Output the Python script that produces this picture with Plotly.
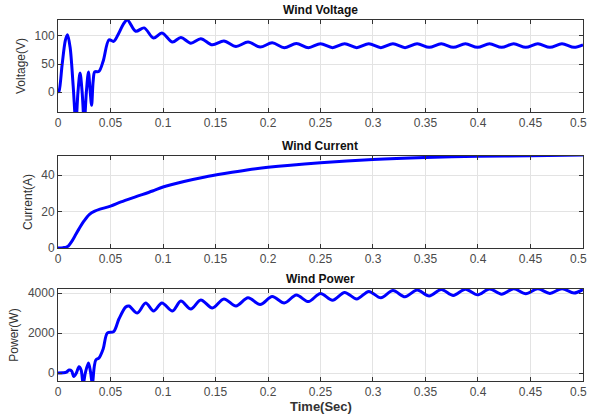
import plotly.graph_objects as go

# ---------------- data ----------------
volt_t = [0, 0.001, 0.004, 0.007, 0.009, 0.0115, 0.0145, 0.017, 0.019, 0.021, 0.023, 0.025, 0.027,
          0.029, 0.0305, 0.032, 0.0335, 0.035, 0.039, 0.043, 0.0486, 0.053, 0.058, 0.062, 0.066,
          0.074, 0.082, 0.091, 0.099, 0.109, 0.117, 0.1265, 0.136, 0.147, 0.158, 0.1695, 0.181,
          0.1925, 0.204, 0.2155, 0.227, 0.2385, 0.25, 0.2615, 0.273, 0.2845, 0.296, 0.3075, 0.319,
          0.3305, 0.342, 0.3535, 0.365, 0.3765, 0.388, 0.3995, 0.411, 0.4225, 0.434, 0.4455, 0.457,
          0.4685, 0.48, 0.4915, 0.5]
volt_v = [0, 2, 50, 92, 102, 80, 10, -55, 0, 34, 0, -55, 0,
          36, 5, -23, 20, 36, 37, 55, 93, 90, 105, 120, 128,
          108, 114, 96, 105, 89, 97, 87, 95, 84, 91, 81, 89,
          80, 87.5, 79, 86.5, 79, 86, 79, 86, 79, 86, 79, 86,
          79, 86, 79.5, 86, 79.5, 86, 79.5, 86, 79.5, 86, 79.5, 86,
          79.5, 86, 79.5, 84]

curr_t = [0, 0.005, 0.008, 0.01, 0.013, 0.016, 0.02, 0.025, 0.03, 0.035, 0.04, 0.05, 0.06, 0.075,
          0.09, 0.1, 0.12, 0.14, 0.16, 0.18, 0.2, 0.25, 0.3, 0.35, 0.4, 0.45, 0.5]
curr_i = [0, 0.2, 0.5, 1.2, 3.5, 6.5, 10.5, 15, 18.5, 20.2, 21.3, 23, 25.3, 28.3,
          31.3, 33.5, 36.5, 39, 41, 42.8, 44.3, 46.8, 48.6, 49.7, 50.3, 50.7, 51]

pow_t = [0, 0.005, 0.008, 0.0105, 0.013, 0.015, 0.0175, 0.02, 0.022, 0.024, 0.026, 0.029, 0.031,
         0.0327, 0.0345, 0.036, 0.039, 0.043, 0.047, 0.053, 0.058, 0.0645, 0.0676, 0.0755, 0.0835,
         0.091, 0.099, 0.109, 0.117, 0.1265, 0.136, 0.147, 0.158, 0.1695, 0.181, 0.1925, 0.204,
         0.2155, 0.227, 0.2385, 0.25, 0.2615, 0.273, 0.2845, 0.296, 0.3075, 0.319, 0.3305, 0.342,
         0.3535, 0.365, 0.3765, 0.388, 0.3995, 0.411, 0.4225, 0.434, 0.4455, 0.457, 0.4685, 0.48,
         0.4915, 0.5]
pow_p = [0, 10, 40, 150, 100, -180, 0, 310, 150, -550, 0, 500, 50,
         -550, 300, 650, 750, 1200, 2000, 2070, 2700, 3300, 3350, 3000, 3500,
         3100, 3500, 3100, 3600, 3200, 3650, 3250, 3700, 3350, 3760, 3420, 3820,
         3500, 3900, 3570, 3980, 3640, 4030, 3700, 4080, 3760, 4120, 3810, 4150,
         3850, 4170, 3880, 4190, 3910, 4200, 3940, 4210, 3960, 4210, 3980, 4215,
         4000, 4180]

x_ticks = [0, 0.05, 0.1, 0.15, 0.2, 0.25, 0.3, 0.35, 0.4, 0.45, 0.5]
x_ticklabels = ["0", "0.05", "0.1", "0.15", "0.2", "0.25", "0.3", "0.35", "0.4", "0.45", "0.5"]
titles = ["Wind Voltage", "Wind Current", "Wind Power"]
ylabels = ["Voltage(V)", "Current(A)", "Power(W)"]
y_ticks = [[0, 50, 100], [0, 20, 40], [0, 2000, 4000]]
y_ranges = [[-35, 128], [0, 50.5], [-400, 4200]]
xlabel = "Time(Sec)"

# ---------------- figure ----------------
W, H = 589, 416
L, R = 58, 583
boxes = [(20, 112), (156, 248), (289, 381)]
domains = [[1 - b / H, 1 - t / H] for t, b in boxes]

fig = go.Figure()
series = [(volt_t, volt_v), (curr_t, curr_i), (pow_t, pow_p)]
font_fam = "Liberation Sans, Arial, sans-serif"
tick_font = dict(family=font_fam, size=12, color="#4a4a4a")
for k, (tx, ty) in enumerate(series):
    suffix = "" if k == 0 else str(k + 1)
    fig.add_trace(go.Scatter(x=tx, y=ty, mode="lines",
                             line=dict(color="#0000ff", width=3, shape="spline", smoothing=0.9),
                             xaxis="x" + suffix, yaxis="y" + suffix, showlegend=False,
                             hoverinfo="skip", cliponaxis=True))
    axis_common = dict(showline=True, linecolor="#333333", linewidth=1, mirror="ticks",
                       ticks="inside", ticklen=4, tickcolor="#333333", automargin=False,
                       showgrid=True, gridcolor="#e3e3e3", gridwidth=1, zeroline=False,
                       tickfont=tick_font)
    # last tick label ("0.5") is drawn as an annotation so it stays inside the page
    fig.layout["xaxis" + suffix] = dict(axis_common, domain=[0, 1],
                                        range=[0, 0.50001], tickvals=x_ticks,
                                        ticktext=x_ticklabels[:-1] + [""],
                                        anchor="y" + suffix)
    fig.layout["yaxis" + suffix] = dict(axis_common, domain=domains[k], range=y_ranges[k],
                                        tickvals=y_ticks[k], anchor="x" + suffix,
                                        title=dict(text=ylabels[k], standoff=6,
                                                   font=dict(family=font_fam, size=12, color="#333333")))
    fig.add_annotation(text=x_ticklabels[-1], xref="paper", yref="paper",
                       x=(W - 0.5 - L) / (R - L), y=1 - (boxes[k][1] + 11) / H,
                       xanchor="right", yanchor="middle", showarrow=False, font=tick_font)
    fig.add_annotation(text="<b>" + titles[k] + "</b>", xref="paper", yref="paper",
                       x=(320 - L) / (R - L), y=1 - (boxes[k][0] - 10) / H,
                       xanchor="center", yanchor="middle", showarrow=False,
                       font=dict(family=font_fam, size=12, color="#111111"))

fig.add_annotation(text="<b>" + xlabel + "</b>", xref="paper", yref="paper",
                   x=(321 - L) / (R - L), y=1 - 406 / H, xanchor="center", yanchor="middle",
                   showarrow=False, font=dict(family=font_fam, size=13, color="#333333"))

fig.update_layout(width=W, height=H, margin=dict(l=L, r=W - R, t=0, b=0, autoexpand=False),
                  paper_bgcolor="white", plot_bgcolor="white")
fig.write_html("out.html", config={"displayModeBar": False})
